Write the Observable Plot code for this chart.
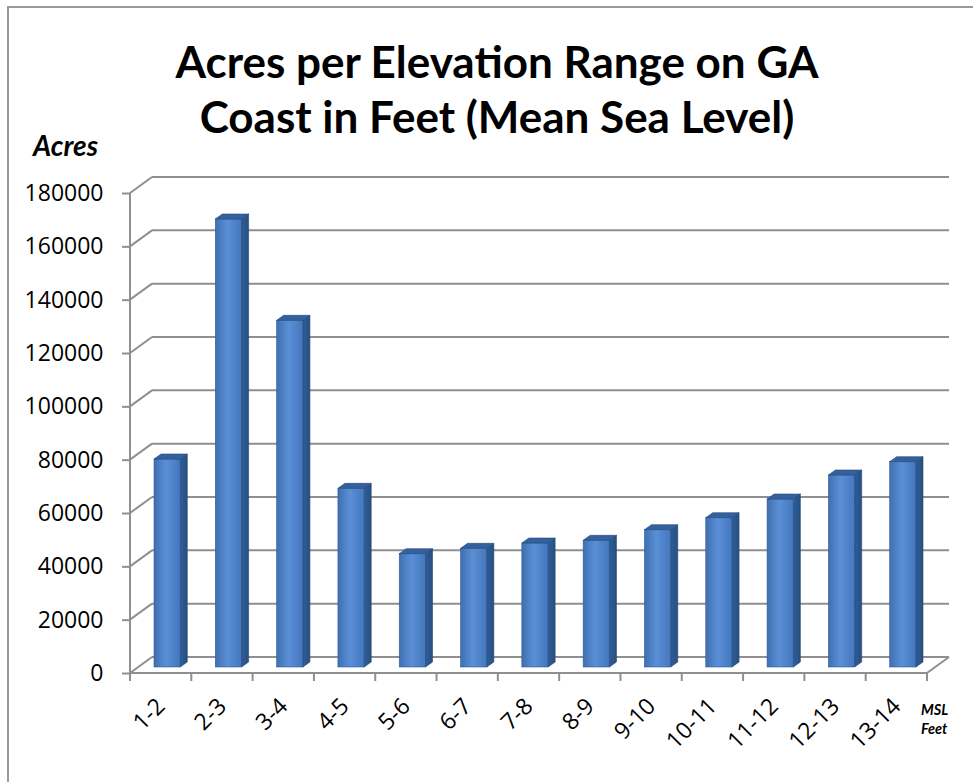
<!DOCTYPE html>
<html>
<head>
<meta charset="utf-8">
<script src="https://cdn.jsdelivr.net/npm/d3@7"></script>
<script src="https://cdn.jsdelivr.net/npm/@observablehq/plot@0.6"></script>
<style>
  html, body { margin: 0; padding: 0; background: #fff; }
  body { width: 973px; height: 782px; overflow: hidden; position: relative; font-family: Lato, "Open Sans", sans-serif; }
  #frame { position: absolute; left: 7px; top: 6px; width: 966px; height: 776px; border-left: 2px solid #9a9a9a; border-top: 2px solid #9a9a9a; box-sizing: border-box; }
  #title { position: absolute; left: 0; top: 34px; width: 973px; text-align: center; font-weight: 700; font-size: 44px; line-height: 55px; color: #000; padding-left: 21px; box-sizing: border-box; }
  #ylabel { position: absolute; left: 33px; top: 128px; font-weight: 700; font-style: italic; font-size: 28px; color: #000; }
  #xlabel { position: absolute; left: 921px; top: 700px; font-weight: 700; font-style: italic; font-size: 14.5px; line-height: 19px; color: #000; }
  #chart { position: absolute; left: 0; top: 140px; }
</style>
</head>
<body>
<div id="frame"></div>
<div id="title">Acres per Elevation Range on GA<br>Coast in Feet (Mean Sea Level)</div>
<div id="ylabel">Acres</div>
<div id="chart"></div>
<div id="xlabel">MSL<br>Feet</div>
<script>
// ---- data ----
const ranges = ["1-2","2-3","3-4","4-5","5-6","6-7","7-8","8-9","9-10","10-11","11-12","12-13","13-14"];
const acres  = [78000, 168000, 130000, 67000, 42500, 44500, 46500, 47500, 51500, 56000, 63000, 72000, 77000];
const yTicks = [0, 20000, 40000, 60000, 80000, 100000, 120000, 140000, 160000, 180000];

const data = ranges.map((r, i) => ({range: r, acres: acres[i]}));

// 3D look parameters (pixel offsets of the depth projection)
const wallDX = 22, wallDY = -16;
const barDX = 7, barDY = -5;
const barLift = -6;
const insetL = 24, insetR = 11;
const gridColor = "#8f8f8f";

function walls(index, scales) {
  const {x, y} = scales;
  const g = d3.create("svg:g");
  const defs = g.append("defs");
  const fg = defs.append("linearGradient").attr("id", "frontGrad").attr("x1", "0").attr("x2", "1").attr("y1", "0").attr("y2", "0");
  fg.append("stop").attr("offset", "0").attr("stop-color", "#3f6fb0");
  fg.append("stop").attr("offset", "0.45").attr("stop-color", "#5a8fd6");
  fg.append("stop").attr("offset", "1").attr("stop-color", "#4477bd");
  const sg = defs.append("linearGradient").attr("id", "sideGrad").attr("x1", "0").attr("x2", "1").attr("y1", "0").attr("y2", "0");
  sg.append("stop").attr("offset", "0").attr("stop-color", "#2f5d99");
  sg.append("stop").attr("offset", "1").attr("stop-color", "#26507f");
  const bw = x.bandwidth();
  const xL = x(ranges[0]);
  const xR = x(ranges[ranges.length - 1]) + bw;
  const y0 = y(0);
  const lines = [];
  for (const t of yTicks) {
    const yy = y(t);
    lines.push([xL, yy, xL + wallDX, yy + wallDY]);
    lines.push([xL + wallDX, yy + wallDY, xR + wallDX, yy + wallDY]);
  }
  lines.push([xL, y0, xR, y0]);
  lines.push([xR, y0, xR + wallDX, y0 + wallDY]);
  lines.push([xL, y(yTicks[yTicks.length - 1]), xL, y0]);
  ranges.forEach((r) => lines.push([x(r), y0, x(r), y0 + 8]));
  lines.push([xR, y0, xR, y0 + 8]);
  g.selectAll("line").data(lines).join("line")
    .attr("x1", d => d[0]).attr("y1", d => d[1]).attr("x2", d => d[2]).attr("y2", d => d[3])
    .attr("stroke", gridColor).attr("stroke-width", 2);
  return g.node();
}

function barSides(index, scales) {
  const {x, y} = scales;
  const g = d3.create("svg:g");
  const bw = x.bandwidth();
  for (const d of data) {
    const l = x(d.range) + insetL;
    const r = x(d.range) + bw - insetR;
    const top = y(d.acres) + barLift;
    const bot = y(0) + barLift;
    g.append("path")
      .attr("d", `M${r},${top}L${r + barDX},${top + barDY}L${r + barDX},${bot + barDY}L${r},${bot}Z`)
      .attr("fill", "url(#sideGrad)").attr("stroke", "#24497a").attr("stroke-width", 0.6);
    g.append("path")
      .attr("d", `M${l},${top}L${l + barDX},${top + barDY}L${r + barDX},${top + barDY}L${r},${top}Z`)
      .attr("fill", "#34609f").attr("stroke", "#24497a").attr("stroke-width", 0.6);
  }
  return g.node();
}

const chart = Plot.plot({
  width: 973,
  height: 642,
  marginTop: 53,
  marginBottom: 109,
  marginLeft: 130,
  marginRight: 46,
  style: { fontFamily: "'Open Sans', sans-serif", fontSize: "23px", color: "#000", background: "transparent", overflow: "visible" },
  x: { domain: ranges, padding: 0, round: false, label: null },
  y: { domain: [0, 180000], label: null },
  marks: [
    walls,
    Plot.barY(data, { x: "range", y: "acres", fill: "url(#frontGrad)", stroke: "#2f5d99", strokeWidth: 0.6, insetLeft: insetL, insetRight: insetR, dy: barLift }),
    barSides,
    Plot.axisY({ ticks: yTicks, tickSize: 8, tickPadding: 19, tickFormat: d => String(d), fontSize: 23, stroke: gridColor, strokeWidth: 2, fill: "#000", label: null }),
    Plot.axisX({ tickSize: 0, tickRotate: -45, tickPadding: 29, dx: 0, fontSize: 23, fill: "#000", label: null })
  ]
});
document.getElementById("chart").appendChild(chart);
</script>
</body>
</html>
